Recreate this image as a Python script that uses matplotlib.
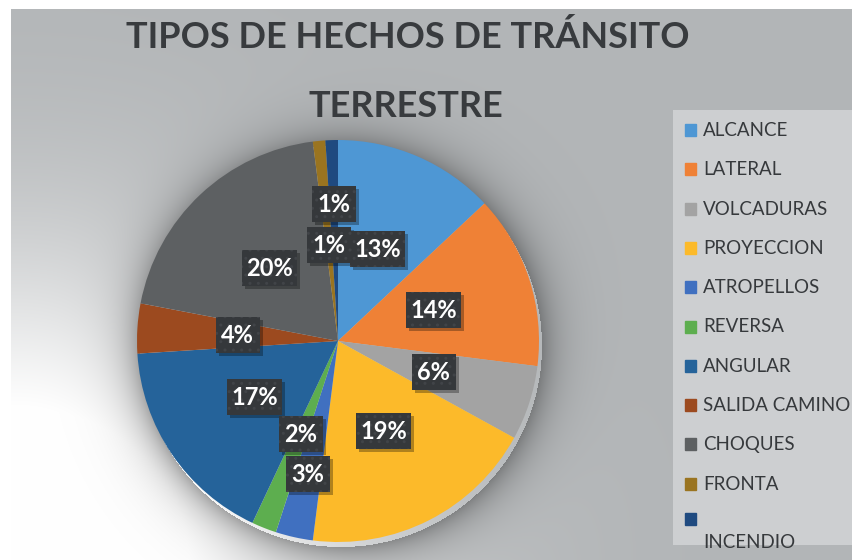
import numpy as np
import matplotlib
matplotlib.use('Agg')
import matplotlib.pyplot as plt
from matplotlib.patches import Rectangle
from matplotlib import font_manager

categorias = ['ALCANCE', 'LATERAL', 'VOLCADURAS', 'PROYECCION', 'ATROPELLOS',
              'REVERSA', 'ANGULAR', 'SALIDA CAMINO', 'CHOQUES', 'FRONTA', 'INCENDIO']
porcentajes = [13, 14, 6, 19, 3, 2, 17, 4, 20, 1, 1]
colores = ['#4E97D4', '#EF8136', '#A3A3A3', '#FCBA2A', '#4070C0', '#5DAE4F',
           '#25639A', '#9C4A1F', '#5D6062', '#9A7420', '#1F4A80']
# distancia radial de cada etiqueta (fraccion del radio)
dist_etiqueta = [0.5, 0.5, 0.5, 0.5, 0.68, 0.5, 0.5, 0.5, 0.5, 0.48, 0.68]

W, H = 852, 560
CX, CY, R = 338, 341, 201

try:
    font_manager.findfont('Liberation Sans Narrow', fallback_to_default=False)
    angosta = ['Liberation Sans Narrow', 'DejaVu Sans']
except ValueError:
    angosta = ['Lato', 'DejaVu Sans']

fig = plt.figure(figsize=(W / 100, H / 100), dpi=100)
fig.patch.set_facecolor('white')

# fondo con degradado y sombra del pastel
bg = fig.add_axes([0, 0, 1, 1])
bg.set_xlim(0, W)
bg.set_ylim(H, 0)
bg.axis('off')
yy, xx = np.mgrid[0:H, 0:W] + 0.5
gris = np.array([178, 181, 183]) / 255
d = np.hypot((xx - 20) * 0.9, yy - 560)
luz = np.clip(1.25 * np.exp(-(d / 300) ** 2.2), 0, 1)
img = gris + (1 - gris) * luz[..., None]
rr = np.hypot(xx - CX - 3, yy - CY - 5) - R
sombra = np.where(rr > 0, 0.33 * np.exp(-np.clip(rr, 0, None) / 20), 0)
img = img * (1 - sombra[..., None])
bg.imshow(img[9:, 11:], extent=(11, W, H, 9), aspect='auto', zorder=0)

# caja de la leyenda
bg.add_patch(Rectangle((673, 110), 190, 435, facecolor='#cdcfd1', edgecolor='none', zorder=1))

# titulo
bg.text(408, 48, 'TIPOS DE HECHOS DE TRÁNSITO', ha='center', va='baseline',
        fontsize=26, fontweight='bold', color='#383b3e', family=angosta)
bg.text(406, 117, 'TERRESTRE', ha='center', va='baseline',
        fontsize=26, fontweight='bold', color='#383b3e', family=angosta)

# leyenda
for i, (cat, col) in enumerate(zip(categorias, colores)):
    y = 129 + i * 39.3
    if i == len(categorias) - 1:
        bg.add_patch(Rectangle((685, y - 9), 11, 12, color=col, zorder=2))
        bg.text(703, y + 26, cat, va='baseline', fontsize=13.5, color='#36393c', family=angosta)
    else:
        bg.add_patch(Rectangle((685, y - 5), 11, 12, color=col, zorder=2))
        bg.text(703, y + 7, cat, va='baseline', fontsize=13.5, color='#36393c', family=angosta)

# pastel
ax = fig.add_axes([(CX - R) / W, (H - CY - R) / H, 2 * R / W, 2 * R / H])
wedges, _ = ax.pie(porcentajes, colors=colores, startangle=90, counterclock=False,
                   radius=1, wedgeprops=dict(linewidth=0))
ax.set_xlim(-1, 1)
ax.set_ylim(-1, 1)
ax.axis('off')

for wdg, pct, dist in zip(wedges, porcentajes, dist_etiqueta):
    ang = np.deg2rad((wdg.theta1 + wdg.theta2) / 2)
    x, y = dist * np.cos(ang), dist * np.sin(ang)
    txt = f'{pct}%'
    bw = (44 if len(txt) == 2 else 55) / R
    bh = 36 / R
    ax.add_patch(Rectangle((x - bw / 2 + 3 / R, y - bh / 2 - 3 / R), bw, bh,
                           facecolor='black', alpha=0.3, edgecolor='none', zorder=3))
    ax.add_patch(Rectangle((x - bw / 2, y - bh / 2), bw, bh, facecolor='#35383b',
                           edgecolor='#414448', linewidth=0, hatch='..', zorder=4))
    ax.text(x, y - 8 / R, txt, ha='center', va='baseline', fontsize=17,
            fontweight='bold', color='white', family=angosta, zorder=5)

fig.savefig('out.png', dpi=100)
